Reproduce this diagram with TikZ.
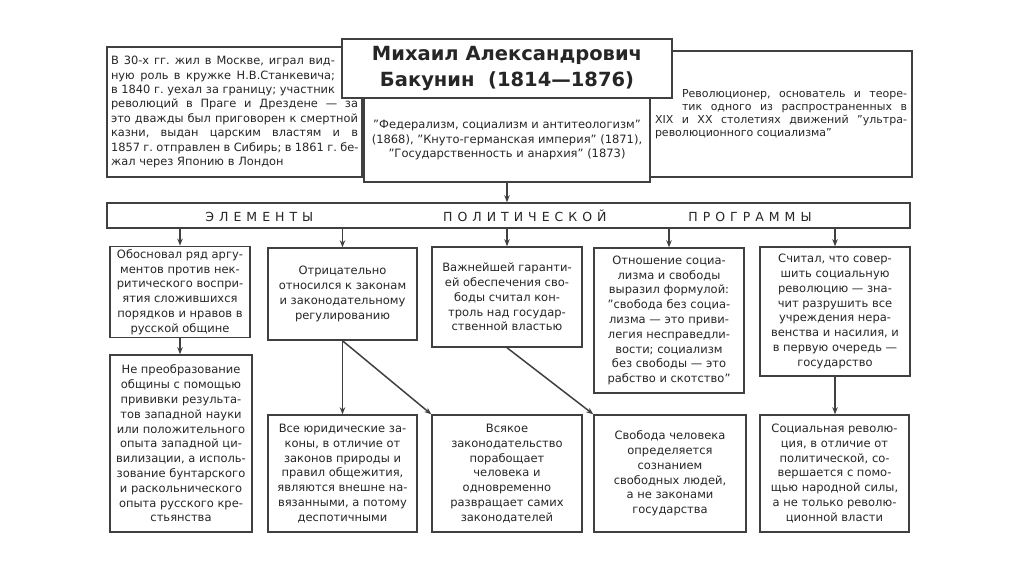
\documentclass[tikz,border=0pt]{standalone}
\usepackage{fontspec}
\setmainfont{DejaVu Sans}
\newfontfamily\spacedfont[LetterSpace=40]{DejaVu Sans}
\usetikzlibrary{arrows.meta}
\newcommand{\fillline}[2]{\makebox[#1][s]{\spaceskip=.3em plus 3em\relax #2}}

\begin{document}
\begin{tikzpicture}[x=1pt, y=-1pt,
    box/.style={draw=black!75, line width=1.5pt, fill=white, text=black!85,
        inner sep=3pt, align=center, font=\fontsize{11.5}{14.8}\selectfont\frenchspacing},
    arr/.style={-{Stealth[length=7pt,width=5.5pt]}, line width=1.5pt, draw=black!75}]
    \useasboundingbox (0,0) rectangle (1024,574);

    % top block
    \node[box, minimum width=255, minimum height=130, text width=247, align=left,
        font=\fontsize{11.4}{14.4}\selectfont\frenchspacing] (bio) at (234.5,112)
        {\fillline{224pt}{В 30-х гг. жил в Москве, играл вид-}\\
        \fillline{224pt}{ную роль в кружке Н.В.Станкевича;}\\
        \fillline{224pt}{в 1840 г. уехал за границу; участник}\\
        \fillline{247pt}{революций в Праге и Дрездене — за}\\
        \fillline{247pt}{это дважды был приговорен к смертной}\\
        \fillline{247pt}{казни, выдан царским властям и в}\\
        \fillline{247pt}{1857 г. отправлен в Сибирь; в 1861 г. бе-}\\
        жал через Японию в Лондон};
    \node[box, minimum width=262, minimum height=126, text width=252, align=left,
        font=\fontsize{11}{13}\selectfont\frenchspacing] (rev) at (781,114)
        {\hspace*{27pt}\fillline{225pt}{Революционер, основатель и теоре-}\\
        \hspace*{27pt}\fillline{225pt}{тик одного из распространенных в}\\
        \fillline{252pt}{XIX и XX столетиях движений "ультра-}\\
        революционного социализма"};
    \node[box, minimum width=330, minimum height=59,
        font=\fontsize{19.5}{26}\selectfont\bfseries] (title) at (507,68.5)
        {Михаил Александрович\\Бакунин\ \ (1814—1876)};
    \node[box, minimum width=286, minimum height=84] (works) at (507,140)
        {"Федерализм, социализм и антитеологизм"\\
        (1868), "Кнуто-германская империя" (1871),\\
        "Государственность и анархия" (1873)};

    \node[box, minimum width=803, minimum height=25, font=\spacedfont\fontsize{12.5}{14}\selectfont]
        (banner) at (508.5,215.5)
        {ЭЛЕМЕНТЫ\hspace{130pt}ПОЛИТИЧЕСКОЙ\hspace{82pt}ПРОГРАММЫ};

    % first row
    \node[box, minimum width=140, minimum height=90] (a1) at (180,292)
        {Обосновал ряд аргу-\\ментов против нек-\\ритического воспри-\\ятия сложившихся\\порядков и нравов в\\русской общине};
    \node[box, minimum width=149, minimum height=92] (b1) at (342.5,294)
        {Отрицательно\\относился к законам\\и законодательному\\регулированию};
    \node[box, minimum width=150, minimum height=100] (c1) at (507,297)
        {Важнейшей гаранти-\\ей обеспечения сво-\\боды считал кон-\\троль над государ-\\ственной властью};
    \node[box, minimum width=150, minimum height=145] (d1) at (669,320.5)
        {Отношение социа-\\лизма и свободы\\выразил формулой:\\"свобода без социа-\\лизма — это приви-\\легия несправедли-\\вости; социализм\\без свободы — это\\рабство и скотство"};
    \node[box, minimum width=150, minimum height=129] (e1) at (835,311.5)
        {Считал, что совер-\\шить социальную\\революцию — зна-\\чит разрушить все\\учреждения нера-\\венства и насилия, и\\в первую очередь —\\государство};

    % second row
    \node[box, minimum width=142, minimum height=177] (a2) at (181,443.5)
        {Не преобразование\\общины с помощью\\прививки результа-\\тов западной науки\\или положительного\\опыта западной ци-\\вилизации, а исполь-\\зование бунтарского\\и раскольнического\\опыта русского кре-\\стьянства};
    \node[box, minimum width=149, minimum height=117] (b2) at (342.5,473.5)
        {Все юридические за-\\коны, в отличие от\\законов природы и\\правил общежития,\\являются внешне на-\\вязанными, а потому\\деспотичными};
    \node[box, minimum width=150, minimum height=117] (c2) at (507,473.5)
        {Всякое\\законодательство\\порабощает\\человека и\\одновременно\\развращает самих\\законодателей};
    \node[box, minimum width=152, minimum height=117] (d2) at (670,473.5)
        {Свобода человека\\определяется\\сознанием\\свободных людей,\\а не законами\\государства};
    \node[box, minimum width=149, minimum height=117] (e2) at (834.5,473.5)
        {Социальная револю-\\ция, в отличие от\\политической, со-\\вершается с помо-\\щью народной силы,\\а не только револю-\\ционной власти};

    % arrows
    \draw[arr] (works.south) -- (works.south |- banner.north);
    \foreach \b in {a1,b1,c1,d1,e1}
        \draw[arr] (banner.south -| \b.north) -- (\b.north);
    \draw[arr] (a1.south) -- (a1.south |- a2.north);
    \draw[arr] (b1.south) -- (b1.south |- b2.north);
    \draw[arr] (b1.south) -- (c2.north west);
    \draw[arr] (c1.south) -- (d2.north west);
    \draw[arr] (e1.south) -- (e1.south |- e2.north);
\end{tikzpicture}
\end{document}
